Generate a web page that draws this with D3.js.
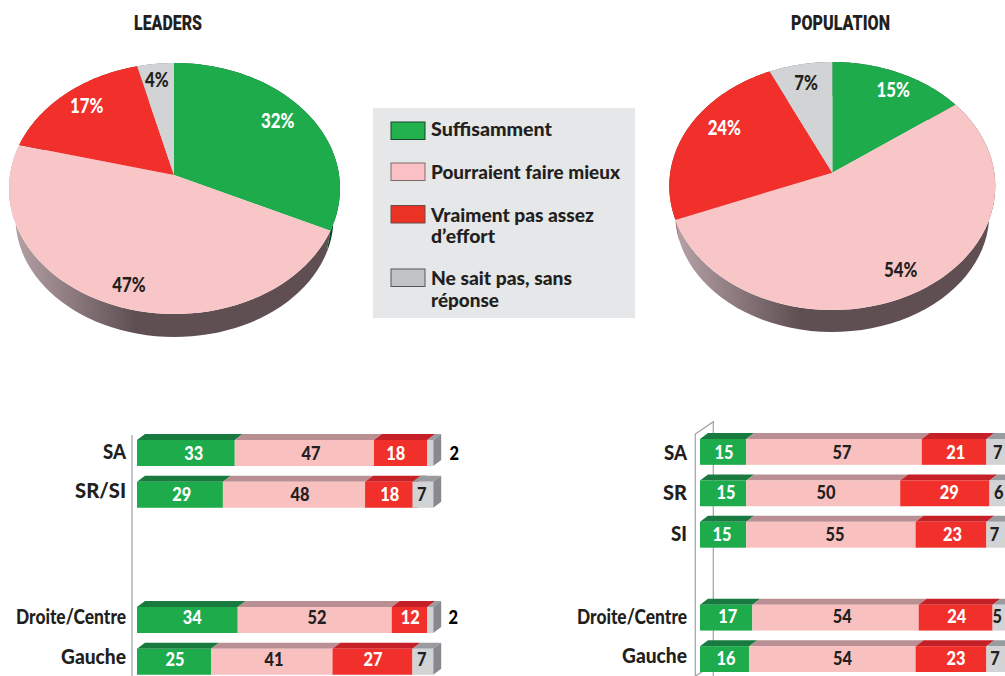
<!DOCTYPE html>
<html lang="fr"><head><meta charset="utf-8">
<script src="https://cdnjs.cloudflare.com/ajax/libs/d3/7.8.5/d3.min.js"></script>
<style>
html,body{margin:0;padding:0;background:#fff;overflow:hidden}
svg{display:block}
text{font-family:Lato,"Open Sans",sans-serif;font-weight:900;fill:#231f20}
</style></head><body>
<svg id="chart" width="1005" height="676"></svg>
<script>
// ---- data ----
const seriesNames = ["Suffisamment","Pourraient faire mieux","Vraiment pas assez d\u2019effort","Ne sait pas, sans r\u00e9ponse"];
const leadersPie = [32,47,17,4];
const populationPie = [15,54,24,7];
const leadersRows = ["SA","SR/SI","_gap1","_gap2","Droite/Centre","Gauche"];
const leadersLabels = ["SA","SR/SI","Droite/Centre","Gauche"];
const leadersSA = [33,47,18,2];
const leadersSRSI = [29,48,18,7];
const leadersDroite = [34,52,12,2];
const leadersGauche = [25,41,27,7];
const populationRows = ["SA","SR","SI","_gap1","Droite/Centre","Gauche"];
const populationLabels = ["SA","SR","SI","Droite/Centre","Gauche"];
const populationSA = [15,57,21,7];
const populationSR = [15,50,29,6];
const populationSI = [15,55,23,7];
const populationDroite = [17,54,24,5];
const populationGauche = [16,54,23,7];

// ---- styles ----
const front = ["#1dab4b","#f9c0c0","#f1302c","#d1d3d4"];
const topFace = ["#187a3f","#b98f93","#c52027","#9a9b9f"];
const sideFace = "#87898f";
const pieFill = ["#1dab4b","#f9c6c7","#f1302c","#d1d3d4"];
const pieEdge = ["#0c4a25",null,"#8c1a1c","#77787b"];
const pieText = ["#fff","#231f20","#fff","#231f20"];
const barText = ["#fff","#231f20","#fff","#231f20"];
const svg = d3.select("#chart");
const defs = svg.append("defs");
function squeeze(sel, k){
  sel.each(function(){ const w=this.getComputedTextLength();
    d3.select(this).attr("textLength",w*k).attr("lengthAdjust","spacingAndGlyphs"); });
}

// ---- pies ----
function rayEllipse(ax, ay, dx, dy, e){
  const ux=dx/e.rx, uy=dy/e.ry, px=(ax-e.cx)/e.rx, py=(ay-e.cy)/e.ry;
  const a=ux*ux+uy*uy, b=2*(px*ux+py*uy), c=px*px+py*py-1;
  const t=(-b+Math.sqrt(b*b-4*a*c))/(2*a);
  return [ax+t*dx, ay+t*dy];
}
function drawPie(cfg, values){
  const arcs = d3.pie().sort(null)(values);
  const lower = cfg.lower;
  const rim = (th, e, ay) => rayEllipse(cfg.ax, ay, Math.sin(th)*cfg.top.rx, -Math.cos(th)*cfg.top.ry, e);
  const line = d3.line();
  const gid = "side"+cfg.id;
  const g = defs.append("linearGradient").attr("id",gid).attr("gradientUnits","userSpaceOnUse")
    .attr("x1",cfg.gradFrom).attr("x2",cfg.gradTo).attr("y1",0).attr("y2",0);
  g.append("stop").attr("offset",0).attr("stop-color","#b7a3a7");
  g.append("stop").attr("offset",1).attr("stop-color","#5f4f52");
  const samples = a => d3.range(0,61).map(i=>a.startAngle+(a.endAngle-a.startAngle)*i/60);
  const root = svg.append("g");
  root.selectAll("path.side").data(arcs).join("path").attr("class","side")
    .attr("d",a=>{
      const s=samples(a);
      return line(s.map(t=>rim(t,cfg.top,cfg.ay)).concat(s.slice().reverse().map(t=>rim(t,lower,cfg.ay+cfg.depth))))+"Z";
    })
    .attr("fill",(a,i)=>i===1?`url(#${gid})`:pieEdge[i]);
  root.selectAll("path.face").data(arcs).join("path").attr("class","face")
    .attr("d",a=>line([[cfg.ax,cfg.ay]].concat(samples(a).map(t=>rim(t,cfg.top,cfg.ay))))+"Z")
    .attr("fill",(a,i)=>pieFill[i]);
  root.selectAll("text").data(arcs).join("text")
    .attr("text-anchor","middle").attr("font-size",20).attr("dy","0.34em")
    .attr("x",(a,i)=>cfg.ax+.75*cfg.top.rx*Math.sin((a.startAngle+a.endAngle)/2)+cfg.nudge[i][0])
    .attr("y",(a,i)=>cfg.ay-.75*cfg.top.ry*Math.cos((a.startAngle+a.endAngle)/2)+cfg.nudge[i][1])
    .style("fill",(a,i)=>pieText[i])
    .text(a=>a.value+"%")
    .call(squeeze,0.84);
}
drawPie({id:"L",ax:174,ay:175,depth:23,gradFrom:12,gradTo:135,
  top:{cx:174.5,cy:188.5,rx:165.5,ry:125.5},
  lower:{cx:174.5,cy:218,rx:159,ry:119},
  nudge:[[-1,-3],[-3,22],[0.5,-2.4],[-1.7,-1.6]]}, leadersPie);
drawPie({id:"P",ax:832.3,ay:172.7,depth:22,gradFrom:675,gradTo:800,
  top:{cx:832.3,cy:186,rx:163,ry:124},
  lower:{cx:832.3,cy:214,rx:157,ry:118},
  nudge:[[5.5,0],[9.5,16],[5.7,-10.5],[0.4,1]]}, populationPie);

// ---- titles ----
svg.append("text").attr("x",168).attr("y",30).attr("text-anchor","middle").attr("font-size",20)
  .style("font-family","Roboto").attr("textLength",68).attr("lengthAdjust","spacingAndGlyphs").text("LEADERS");
svg.append("text").attr("x",840.5).attr("y",30).attr("text-anchor","middle").attr("font-size",20)
  .style("font-family","Roboto").attr("textLength",99).attr("lengthAdjust","spacingAndGlyphs").text("POPULATION");

// ---- legend ----
const legend = svg.append("g");
legend.append("rect").attr("x",373).attr("y",108).attr("width",262).attr("height",210).attr("fill","#e6e7e8");
const legendFill = ["#22b14c","#fbc0c4","#ea3324","#c2c3c5"];
const legendStroke = ["#17452a","#7d6a6a","#6b4a48","#555658"];
const legendLines = [[seriesNames[0]],[seriesNames[1]],["Vraiment pas assez","d\u2019effort"],["Ne sait pas, sans","r\u00e9ponse"]];
const legendWidths = [[121],[189],[163,64],[141,68]];
const legendRowTop = [122,163,205.5,269];
const legendBase = [[136],[179],[221.7,243],[285,307]];
legendLines.forEach((lines,i)=>{
  legend.append("rect").attr("x",391).attr("y",legendRowTop[i]).attr("width",34).attr("height",17.5)
    .attr("fill",legendFill[i]).attr("stroke",legendStroke[i]).attr("stroke-width",1);
  lines.forEach((t,j)=>legend.append("text").attr("x",431).attr("y",legendBase[i][j])
    .attr("font-size",19.5).attr("textLength",legendWidths[i][j]).attr("lengthAdjust","spacingAndGlyphs").text(t));
});

// ---- stacked 3D bars ----
const labelWidth = {"SA":23,"SR":24,"SI":16,"SR/SI":51,"Droite/Centre":110,"Gauche":65};
function drawBars(cfg, rows, labels, table){
  const x = d3.scaleLinear().domain([0,100]).range(cfg.xRange);
  const y = d3.scaleBand().domain(rows).range(cfg.yRange).paddingInner(cfg.pad);
  const g = svg.append("g");
  cfg.axisLines(g, y);
  table.forEach(([name,vals],r)=>{
    const y0=y(name), h=y.bandwidth();
    let cum=0;
    const segs = vals.map((v,i)=>{
      const last=i===vals.length-1;
      const a = last ? 100-v : cum;
      const b = last ? 100 : cum+v;
      cum+=v;
      return {v,i,x0:x(a),x1:x(b)};
    });
    const row = g.append("g");
    row.selectAll("path.t").data(segs).join("path").attr("class","t")
      .attr("d",s=>`M${s.x0},${y0}L${s.x0+cfg.dx},${y0-cfg.dy}L${s.x1+cfg.dx},${y0-cfg.dy}L${s.x1},${y0}Z`)
      .attr("fill",s=>topFace[s.i]);
    const xe=x(100);
    row.append("path").attr("d",`M${xe},${y0}L${xe+cfg.dx},${y0-cfg.dy}L${xe+cfg.dx},${y0+h-cfg.dy}L${xe},${y0+h}Z`).attr("fill",sideFace);
    row.selectAll("rect").data(segs).join("rect")
      .attr("x",s=>s.x0).attr("y",y0).attr("width",s=>s.x1-s.x0).attr("height",h).attr("fill",s=>front[s.i]);
    row.selectAll("text").data(segs).join("text")
      .attr("text-anchor","middle").attr("font-size",19.5).attr("dy","0.34em")
      .attr("x",s=>(s.x0+s.x1)/2+cfg.nudgeX[r][s.i])
      .attr("y",y0+h/2+cfg.nudgeY[r])
      .style("fill",s=>(s.v<=2 ? "#000" : barText[s.i]))
      .text(s=>s.v)
      .call(squeeze,0.84);
  });
  const axis = d3.axisLeft(y).tickValues(labels).tickSize(0).tickPadding(0);
  const ag = g.append("g").attr("transform",`translate(${cfg.labelX},0)`).call(axis);
  ag.select(".domain").remove();
  ag.selectAll("text").attr("font-size",20).attr("y",(d,i)=>cfg.labelDy[i])
    .attr("textLength",d=>labelWidth[d]).attr("lengthAdjust","spacingAndGlyphs")
    .style("font-family",'Lato').style("font-weight",900).style("fill","#231f20");
}
drawBars({xRange:[137,433.2],yRange:[440,674.75],pad:0.377,dx:8,dy:6,labelX:126,labelDy:[0,-3,-2,-4],
  nudgeX:[[8,6.7,-4.8,24],[1.7,6,-2,-1],[5,2.4,0.7,23],[1,2.2,0.4,-1]],
  nudgeY:[0,0,-2.5,-2],
  axisLines:(g)=>g.append("line").attr("x1",132).attr("x2",132).attr("y1",435).attr("y2",676).attr("stroke","#a0a1a6").attr("stroke-width",1.2)
},leadersRows,leadersLabels,[["SA",leadersSA],["SR/SI",leadersSRSI],["Droite/Centre",leadersDroite],["Gauche",leadersGauche]]);

drawBars({xRange:[700,1008],yRange:[439,672],pad:0.377,dx:8,dy:6,labelX:687,labelDy:[2,0.7,0,0,-2],
  nudgeX:[[1,8,1.7,0.5],[3,2.7,4.3,0],[-1,4,1.4,-2.7],[1.5,6.8,1,-3],[1.4,10,5,-2.2]],
  nudgeY:[0,-1.4,0,-1,-1],
  axisLines:(g)=>g.append("path").attr("d","M713.3,676V421.7L695.3,434V676L705,670").attr("fill","none").attr("stroke","#a0a1a6").attr("stroke-width",1.2)
},populationRows,populationLabels,[["SA",populationSA],["SR",populationSR],["SI",populationSI],["Droite/Centre",populationDroite],["Gauche",populationGauche]]);
</script>
</body></html>
